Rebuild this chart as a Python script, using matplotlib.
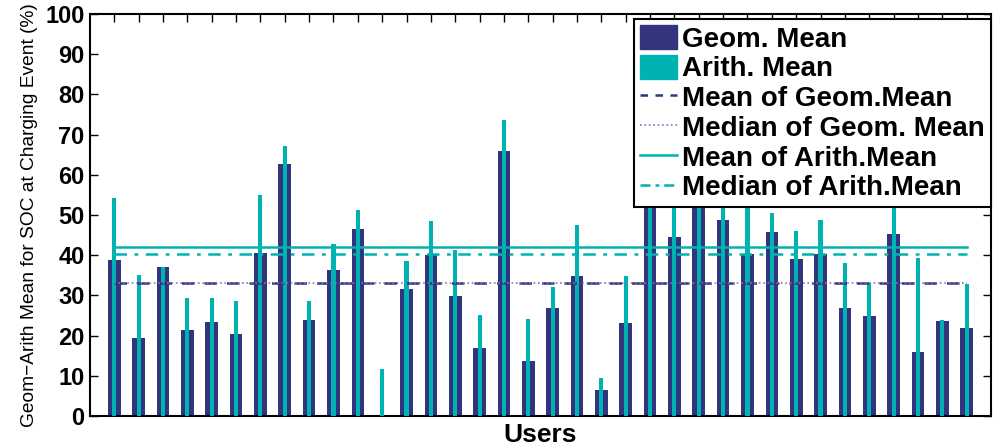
import numpy as np
import matplotlib
matplotlib.use('Agg')
import matplotlib.pyplot as plt
from matplotlib.patches import Patch
from matplotlib.lines import Line2D

plt.rcParams['font.family'] = ['Liberation Sans', 'DejaVu Sans']

# Valeurs (utilisateurs 1..36)
users = np.arange(1, 37)
geom_mean = [38.8, 19.4, 37.1, 21.4, 23.4, 20.4, 40.5, 62.7, 23.9, 36.3, 46.5, 0.0,
             31.6, 40.0, 29.9, 16.9, 65.9, 13.7, 26.9, 34.8, 6.5, 23.1, 58.0, 44.5,
             60.0, 48.8, 40.3, 45.8, 39.1, 40.3, 26.9, 24.9, 45.3, 15.9, 23.6, 21.9]
arith_mean = [54.2, 35.0, 37.1, 29.3, 29.3, 28.6, 55.0, 67.2, 28.6, 42.9, 51.2, 11.7,
              38.6, 48.5, 41.3, 25.0, 73.6, 24.2, 32.1, 47.5, 9.5, 34.7, 66.0, 58.0,
              64.0, 57.0, 55.0, 50.6, 45.9, 48.8, 38.0, 33.2, 54.0, 39.4, 23.9, 32.8]
yticks = np.arange(0, 101, 10)

navy = '#33347e'
teal = '#00b3b3'

fig = plt.figure(figsize=(9.94, 4.46), dpi=100)
ax = fig.add_axes([0.0905, 0.0673, 0.9065, 0.9013])

ax.bar(users, geom_mean, width=0.52, color=navy, zorder=2)
ax.bar(users, arith_mean, width=0.17, color=teal, zorder=3)

g_mean = np.mean(geom_mean)
g_med = np.median(geom_mean)
a_mean = np.mean(arith_mean)
a_med = np.median(arith_mean)

x0, x1 = users[0], users[-1]
ax.plot([x0, x1], [g_mean, g_mean], '--', color=navy, lw=1.8, dashes=(5, 4), zorder=4)
ax.plot([x0, x1], [g_med, g_med], ':', color='#7a7ab8', lw=1.2, zorder=4)
ax.plot([x0, x1], [a_mean, a_mean], '-', color=teal, lw=1.8, zorder=4)
ax.plot([x0, x1], [a_med, a_med], '-.', color=teal, lw=1.8, dashes=(5, 3, 1.5, 3), zorder=4)

ax.set_xlim(0, 37)
ax.set_ylim(0, 100)
ax.set_xticks(users)
ax.set_xticklabels([])
ax.set_yticks(yticks)
ax.set_yticklabels([str(v) for v in yticks], fontsize=17, fontweight='bold')
ax.tick_params(direction='in', length=6, width=1, top=True, right=True, pad=4)
for sp in ax.spines.values():
    sp.set_linewidth(1.5)

ax.set_xlabel('Users', fontsize=19, fontweight='bold', labelpad=1)
ax.set_ylabel('Geom\u2212Arith Mean for SOC at Charging Event (%)', fontsize=13.8, labelpad=5)

handles = [
    Patch(facecolor=navy, edgecolor=navy),
    Patch(facecolor=teal, edgecolor=teal),
    Line2D([], [], color=navy, ls='--', lw=1.8, dashes=(3, 3)),
    Line2D([], [], color='#7a7ab8', ls=':', lw=1.2),
    Line2D([], [], color=teal, ls='-', lw=1.8),
    Line2D([], [], color=teal, ls='-.', lw=1.8, dashes=(4, 2, 1.5, 2)),
]
labels = ['Geom. Mean', 'Arith. Mean', 'Mean of Geom.Mean', 'Median of Geom. Mean',
          'Mean of Arith.Mean', 'Median of Arith.Mean']
leg = ax.legend(handles, labels, loc='upper right', bbox_to_anchor=(1.0, 0.9876),
                borderaxespad=0, fancybox=False, framealpha=1, edgecolor='black',
                prop={'size': 20, 'weight': 'bold'}, handlelength=1.3, handleheight=0.95,
                handletextpad=0.2, labelspacing=0.08, borderpad=0.22)
leg.get_frame().set_linewidth(1.5)
leg.set_zorder(10)

fig.savefig('out.png', dpi=100)
